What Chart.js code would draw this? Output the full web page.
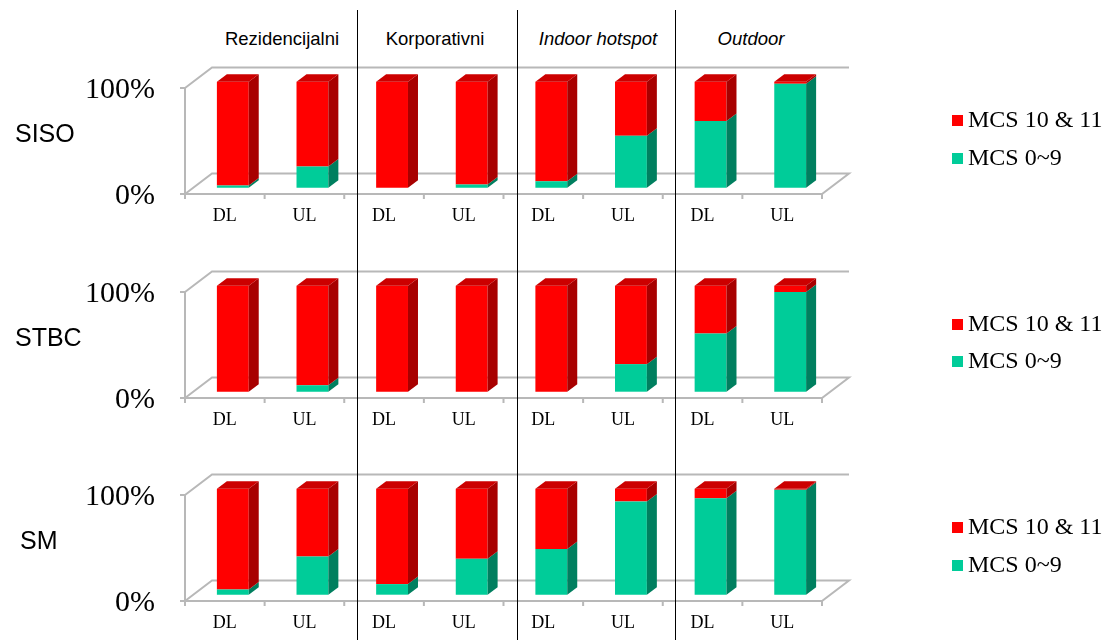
<!DOCTYPE html>
<html>
<head>
<meta charset="utf-8">
<script src="https://cdn.jsdelivr.net/npm/chart.js@4/dist/chart.umd.min.js"></script>
<style>
  body { margin: 0; background: #fff; width: 1113px; height: 640px; overflow: hidden; position: relative; }
  canvas { position: absolute; left: 0; }
  .head { position: absolute; top: 28px; font: 18.5px Arial, "Liberation Sans", sans-serif; color: #000; transform: translateX(-50%); white-space: nowrap; }
  .head.it { font-style: italic; }
  .rowlab { position: absolute; font: 25px Arial, "Liberation Sans", sans-serif; color: #000; line-height: 28px; }
  .sep { position: absolute; top: 10px; bottom: 0; width: 1px; background: #000; z-index: 5; }
  .leg { position: absolute; left: 952px; font: 24px "Liberation Serif", "Times New Roman", serif; color: #000; line-height: 28px; white-space: nowrap; }
  .leg i { display: inline-block; width: 11px; height: 11px; margin-right: 5px; vertical-align: 1px; }
</style>
</head>
<body>

<script>
// data (% of samples)
const scenarios = ['Rezidencijalni', 'Korporativni', 'Indoor hotspot', 'Outdoor'];
const categories = ['DL', 'UL', 'DL', 'UL', 'DL', 'UL', 'DL', 'UL'];
const schemes = ['SISO', 'STBC', 'SM'];
const seriesNames = ['MCS 0~9', 'MCS 10 & 11'];
const yTicks = [0, 100];

const sisoLow  = [2, 20, 0, 3, 6, 49, 63, 98];
const sisoHigh = [98, 80, 100, 97, 94, 51, 37, 2];
const stbcLow  = [0, 6, 0, 0, 0, 26, 55, 94];
const stbcHigh = [100, 94, 100, 100, 100, 74, 45, 6];
const smLow    = [5, 36, 10, 34, 43, 88, 91, 99];
const smHigh   = [95, 64, 90, 66, 57, 12, 9, 1];

const lowRows = [sisoLow, stbcLow, smLow];
const highRows = [sisoHigh, stbcHigh, smHigh];

const colors = [
  { front: '#00cc99', side: '#007f5f', top: '#00a87e' },
  { front: '#ff0000', side: '#a80000', top: '#cc0000' }
];

const ROW_STEP = 203.5;
const W = 1113, H = 180;

// offsets of the pseudo 3D look
const SHIFT_X = 8, SHIFT_Y = 6.3;     // bars sit in the middle of the floor
const BAR_DX = 10, BAR_DY = 7.5;      // bar depth
const WALL_DX = 27, WALL_DY = 20.5;   // floor / wall depth

const serif = '"Liberation Serif", "Times New Roman", serif';

const box3d = {
  id: 'box3d',
  beforeDatasetsDraw(chart) {
    const { ctx, chartArea: a, scales: { x, y } } = chart;
    const y0 = y.getPixelForValue(0), y1 = y.getPixelForValue(100);
    const step = a.width / categories.length;

    ctx.save();
    ctx.strokeStyle = '#b8b8b8';
    ctx.lineWidth = 2;
    ctx.beginPath();
    // wall top
    ctx.moveTo(a.left, y1);
    ctx.lineTo(a.left + WALL_DX, y1 - WALL_DY);
    ctx.lineTo(a.right + WALL_DX, y1 - WALL_DY);
    // floor
    ctx.moveTo(a.left, y0);
    ctx.lineTo(a.left + WALL_DX, y0 - WALL_DY);
    ctx.lineTo(a.right + WALL_DX, y0 - WALL_DY);
    ctx.lineTo(a.right, y0);
    ctx.lineTo(a.left, y0);
    // left axis
    ctx.moveTo(a.left, y1);
    ctx.lineTo(a.left, y0);
    // ticks
    yTicks.forEach(v => {
      const py = y.getPixelForValue(v);
      ctx.moveTo(a.left - 5, py);
      ctx.lineTo(a.left, py);
    });
    for (let i = 0; i <= categories.length; i++) {
      const px = a.left + i * step;
      ctx.moveTo(px, y0);
      ctx.lineTo(px, y0 + 5);
    }
    ctx.stroke();

    // axis labels
    ctx.fillStyle = '#000';
    ctx.font = '30px ' + serif;
    ctx.textAlign = 'right';
    ctx.textBaseline = 'middle';
    yTicks.forEach(v => ctx.fillText(v + '%', a.left - 30, y.getPixelForValue(v) + 2));
    ctx.font = '18px ' + serif;
    ctx.textAlign = 'center';
    categories.forEach((c, i) => ctx.fillText(c, x.getPixelForValue(i), y0 + 22));
    ctx.restore();

    // bars drawn a bit behind the front edge
    ctx.save();
    ctx.translate(SHIFT_X, -SHIFT_Y);
  },
  afterDatasetsDraw(chart) {
    const { ctx } = chart;
    const metas = chart.data.datasets.map((d, i) => chart.getDatasetMeta(i));
    for (let i = 0; i < categories.length; i++) {
      let topSeg = null;
      metas.forEach((meta, d) => {
        const val = chart.data.datasets[d].data[i];
        if (!val) return;
        const p = meta.data[i].getProps(['x', 'y', 'base', 'width'], true);
        const r = p.x + p.width / 2;
        ctx.fillStyle = colors[d].side;
        ctx.beginPath();
        ctx.moveTo(r, p.y);
        ctx.lineTo(r + BAR_DX, p.y - BAR_DY);
        ctx.lineTo(r + BAR_DX, p.base - BAR_DY);
        ctx.lineTo(r, p.base);
        ctx.closePath();
        ctx.fill();
        topSeg = { p, d };
      });
      if (topSeg) {
        const { p, d } = topSeg;
        const l = p.x - p.width / 2, r = p.x + p.width / 2;
        ctx.fillStyle = colors[d].top;
        ctx.beginPath();
        ctx.moveTo(l, p.y);
        ctx.lineTo(r, p.y);
        ctx.lineTo(r + BAR_DX, p.y - BAR_DY);
        ctx.lineTo(l + BAR_DX, p.y - BAR_DY);
        ctx.closePath();
        ctx.fill();
      }
    }
    ctx.restore();
  }
};

function addEl(cls, text, css) {
  const el = document.createElement('div');
  el.className = cls;
  if (text) el.textContent = text;
  Object.assign(el.style, css);
  document.body.appendChild(el);
  return el;
}

// column headers and separators
const headX = [282, 435, 598, 751];
scenarios.forEach((s, i) => addEl('head' + (i >= 2 ? ' it' : ''), s, { left: headX[i] + 'px' }));
[357, 517, 675].forEach(x => addEl('sep', '', { left: x + 'px' }));

schemes.forEach((name, r) => {
  const top = Math.round(50 + r * ROW_STEP);

  const canvas = document.createElement('canvas');
  canvas.width = W;
  canvas.height = H;
  canvas.style.top = top + 'px';
  document.body.appendChild(canvas);

  addEl('rowlab', name, { left: (name === 'SM' ? 20 : 15) + 'px', top: Math.round(119 + r * ROW_STEP) + 'px' });

  // legend, red entry first like the original
  [1, 0].forEach((d, k) => {
    const el = addEl('leg', '', { top: Math.round(105 + k * 37.5 + r * ROW_STEP) + 'px' });
    const sw = document.createElement('i');
    sw.style.background = colors[d].front;
    el.appendChild(sw);
    el.appendChild(document.createTextNode(seriesNames[d]));
  });

  new Chart(canvas, {
    type: 'bar',
    data: {
      labels: categories,
      datasets: [
        { label: seriesNames[0], data: lowRows[r], backgroundColor: colors[0].front },
        { label: seriesNames[1], data: highRows[r], backgroundColor: colors[1].front }
      ]
    },
    options: {
      responsive: false,
      animation: false,
      layout: { padding: { left: 185, right: W - 822, top: 38, bottom: H - 144 } },
      datasets: { bar: { barPercentage: 0.4, categoryPercentage: 1, borderWidth: 0, clip: false } },
      scales: {
        x: { stacked: true, display: false },
        y: { stacked: true, display: false, min: 0, max: 100 }
      },
      plugins: { legend: { display: false }, tooltip: { enabled: false } }
    },
    plugins: [box3d]
  });
});
</script>
</body>
</html>
